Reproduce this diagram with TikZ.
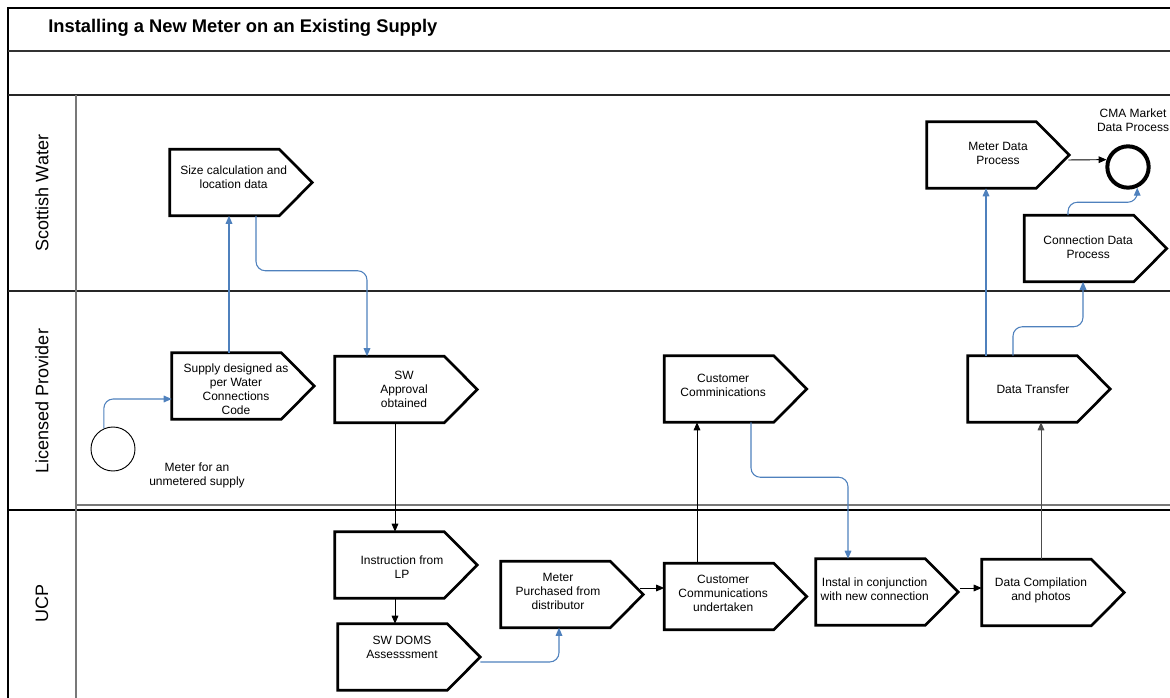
\documentclass[tikz,border=0pt]{standalone}
\usepackage{fontspec}
\setmainfont{Liberation Sans}
\usetikzlibrary{arrows.meta}
\usetikzlibrary{calc}

\definecolor{flowblue}{RGB}{79,129,189}
\definecolor{lanegray}{RGB}{120,120,120}

% text of a step: #1 pad on the right (moves text left), #2 extra depth (moves text up, or down if negative)
\newcommand{\steptext}[3]{\raisebox{0pt}[\height][\dimexpr\depth+#2\relax]{\begin{tabular}{@{}c@{\hspace{#1}}}#3\end{tabular}}}

\tikzset{
  stepbox/.style={shape=rectangle, minimum width=106.5pt, minimum height=49.5pt,
    inner sep=0pt, font=\fontsize{9}{10.5}\selectfont},
  boxline/.style={line width=2pt, line join=miter},
  lanename/.style={rotate=90, font=\fontsize{13.5}{16}\selectfont},
  plain/.style={align=center, font=\fontsize{9}{10.5}\selectfont},
  flow/.style={draw=black, line width=0.7pt, -{Triangle[length=6pt,width=5pt]}},
  flowb/.style={draw=flowblue, line width=0.8pt, rounded corners=7pt, -{Triangle[length=6pt,width=5pt]}}
}

\begin{document}
\begin{tikzpicture}[x=0.75pt, y=-0.75pt]
          \useasboundingbox (0,0) rectangle (1170,698);

          % frame and lanes
          \draw [line width=0.9pt] (8,698) -- (8,8) -- (1170,8);
          \draw [line width=0.8pt, color=black!80] (8,51) -- (1170,51);
          \draw [line width=0.8pt, color=black!85] (8,95) -- (1170,95);
          \draw [line width=0.8pt, color=black!85] (8,291) -- (1170,291);
          \draw [line width=1.4pt, color=lanegray] (76,505) -- (1170,505);
          \draw [line width=0.8pt] (8,510) -- (1170,510);
          \draw [line width=1pt, color=lanegray] (76,95) -- (76,698);

          \node[anchor=base west, inner sep=0pt, font=\bfseries\fontsize{13.75}{16}\selectfont] (title) at (48,33) {Installing a New Meter on an Existing Supply};

          \node[lanename] (lanesw) at (42,193) {Scottish Water};
          \node[lanename] (lanelp) at (42,401) {Licensed Provider};
          \node[lanename] (laneucp) at (42,603) {UCP};

          % steps
          \node[stepbox] (sizecalc) at (241,182.5) {\steptext{11pt}{5.25pt}{Size calculation and\\location data}};
          \node[stepbox] (supply) at (243,386) {\steptext{10.5pt}{-7.5pt}{Supply designed as\\per Water\\Connections\\Code}};
          \node[stepbox] (approval) at (406,389.5) {\steptext{3pt}{-2.25pt}{SW\\Approval\\obtained}};
          \node[stepbox] (instruct) at (406,565) {\steptext{6pt}{-5.25pt}{Instruction from\\LP}};
          \node[stepbox] (doms) at (409,657) {\steptext{10.5pt}{12pt}{SW DOMS\\Assesssment}};
          \node[stepbox] (purchased) at (572,594.5) {\steptext{21pt}{2.25pt}{Meter\\Purchased from\\distributor}};
          \node[stepbox] (undertaken) at (735.5,596.5) {\steptext{18.5pt}{2.25pt}{Customer\\Communications\\undertaken}};
          \node[stepbox] (custcomm) at (735.5,389) {\steptext{18.5pt}{3pt}{Customer\\Comminications}};
          \node[stepbox] (instal) at (887,592) {\steptext{18.5pt}{1.5pt}{Instal in conjunction\\with new connection}};
          \node[stepbox] (compile) at (1053,592.5) {\steptext{18pt}{2.25pt}{Data Compilation\\and photos}};
          \node[stepbox] (transfer) at (1039,389) {\steptext{9pt}{-3pt}{Data Transfer}};
          \node[stepbox] (meterdata) at (998,155) {\steptext{0pt}{0pt}{Meter Data\\Process}};
          \node[stepbox] (conndata) at (1095.5,248.5) {\steptext{11pt}{0pt}{Connection Data\\Process}};

          \foreach \n in {sizecalc,supply,approval,instruct,doms,purchased,undertaken,custcomm,instal,compile,transfer,meterdata,conndata}
            \draw[boxline] (\n.north west) -- ([xshift=-24.75pt]\n.north east) -- (\n.east)
              -- ([xshift=-24.75pt]\n.south east) -- (\n.south west) -- cycle;

          % start and end events
          \node[circle, draw, line width=0.7pt, minimum size=33pt, inner sep=0pt] (start) at (113,449) {};
          \node[plain] (startlabel) at (197,475) {Meter for an\\unmetered supply};
          \node[circle, draw, line width=3pt, minimum size=31pt, inner sep=0pt] (finish) at (1128,167) {};
          \node[plain] (finishlabel) at (1133,120) {CMA Market\\Data Process};

          % connectors
          \draw[flowb] (start.114) |- ($(supply.west)+(0,13)$);
          \draw[flowb] ($(supply.north)+(-14,0)$) -- ($(sizecalc.south)+(-12,0)$);
          \draw[flowb] ($(sizecalc.south)+(15,0)$) -- ++(0,55) -| ($(approval.north)+(-39,0)$);
          \draw[flow] ($(approval.south)+(-11,0)$) -- ($(instruct.north)+(-11,0)$);
          \draw[flow] ($(instruct.south)+(-11,0)$) -- ($(doms.north)+(-14,0)$);
          \draw[flowb] ($(doms.east)+(0,5)$) -| ($(purchased.south)+(-13,0)$);
          \draw[flow] ($(purchased.east)+(-3,-6.5)$) -- ($(undertaken.west)+(0,-8.5)$);
          \draw[flow] ($(undertaken.north)+(-38.5,0)$) -- ($(custcomm.south)+(-38.5,0)$);
          \draw[flowb] ($(custcomm.south)+(15.5,0)$) -- ++(0,55) -| ($(instal.north)+(-39,0)$);
          \draw[flow] ($(instal.east)+(2,-4)$) -- ($(compile.west)+(0,-4.5)$);
          \draw[flow, draw=black!70] ($(compile.north)+(-12,0)$) -- ($(transfer.south)+(2,0)$);
          \draw[flowb] ($(transfer.north)+(-53,0)$) -- ($(meterdata.south)+(-12,0)$);
          \draw[flowb] ($(transfer.north)+(-26,0)$) -- ++(0,-29) -| ($(conndata.south)+(-12.5,0)$);
          \draw[flowb] ($(conndata.north)+(-27.5,0)$) -- ++(0,-13) -| (finish.-66);
          \draw[flow] ($(meterdata.east)+(-1,5)$) -- (finish.161);

        \end{tikzpicture}
\end{document}
